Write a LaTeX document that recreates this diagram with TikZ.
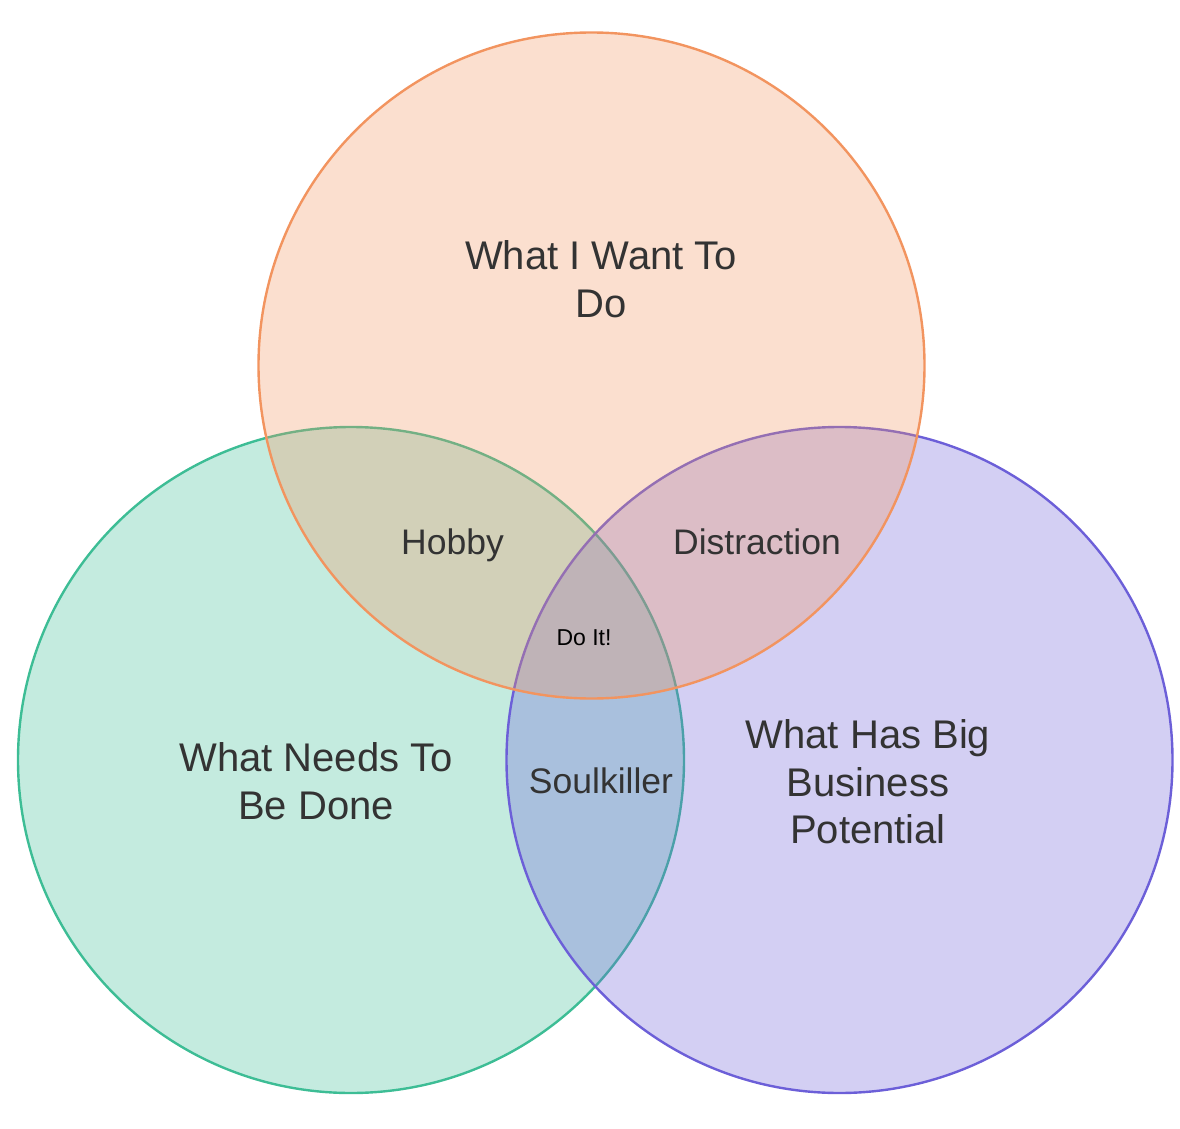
\documentclass[tikz,border=0pt]{standalone}
\usepackage{fontspec}
\setmainfont{Liberation Sans}
\usepackage{xcolor}
\definecolor{wantorange}{HTML}{F2945F}
\definecolor{needgreen}{HTML}{3DBD95}
\definecolor{bizpurple}{HTML}{6C5FD8}
\definecolor{labelgray}{HTML}{333333}

\begin{document}
\begin{tikzpicture}[x=1pt, y=-1pt,
  set/.style={circle, draw, line width=2.4pt, minimum size=666pt, inner sep=0pt, fill opacity=0.3},
  biglabel/.style={text=labelgray, align=center, font=\fontsize{40}{47.5}\selectfont},
  midlabel/.style={text=labelgray, anchor=base, font=\fontsize{35.5}{42}\selectfont},
  smalllabel/.style={text=black, anchor=base, font=\fontsize{23}{28}\selectfont}]

\useasboundingbox (0,0) rectangle (1180,1129);

% Left circle
\node[set, draw=needgreen, fill=needgreen] (need) at (351,760) {};

% Right circle
\node[set, draw=bizpurple, fill=bizpurple] (biz) at (839.5,760) {};

% Top circle
\node[set, draw=wantorange, fill=wantorange] (want) at (591.5,365.5) {};

% Set labels
\node[biglabel] (want_lbl) at (601,279) {What I Want To\\Do};
\node[biglabel] (need_lbl) at (316,781) {What Needs To\\Be Done};
\node[biglabel] (biz_lbl) at (868,782) {What Has Big\\Business\\Potential};

% Overlap labels
\node[midlabel] (hobby) at (452.5,554) {Hobby};
\node[midlabel] (distraction) at (757,554) {Distraction};
\node[midlabel] (soulkiller) at (601,793) {Soulkiller};
\node[smalllabel] (doit) at (584,645) {Do It!};

\end{tikzpicture}
\end{document}
